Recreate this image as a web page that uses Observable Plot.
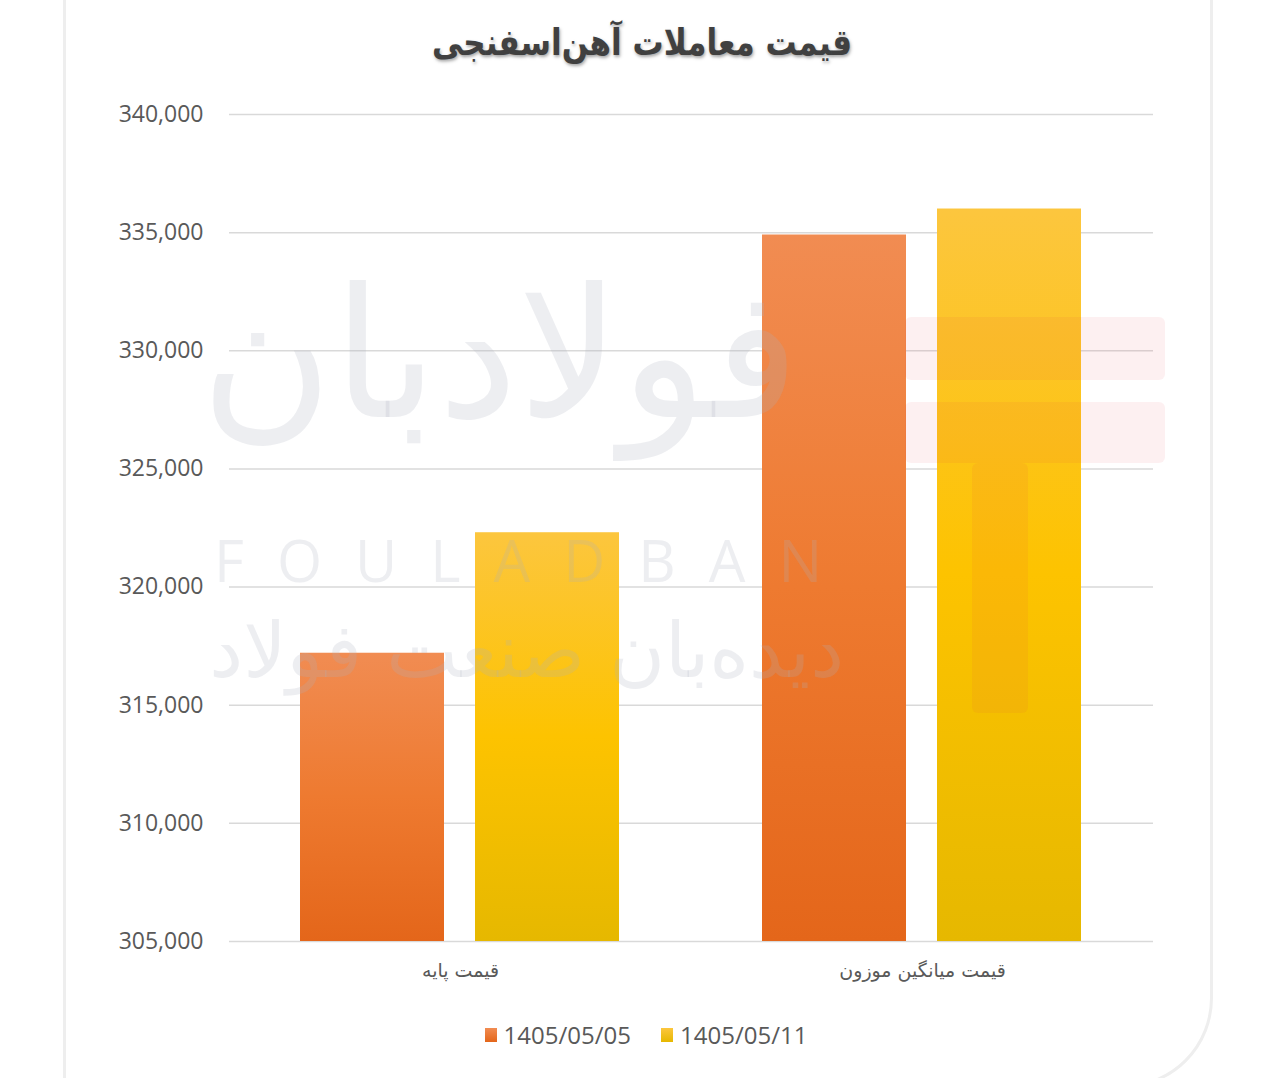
<!DOCTYPE html>
<html>
<head>
<meta charset="utf-8">
<script src="https://cdn.jsdelivr.net/npm/d3@7"></script>
<script src="https://cdn.jsdelivr.net/npm/@observablehq/plot@0.6"></script>
<style>
  html, body { margin: 0; padding: 0; background: #ffffff; }
  #root { position: relative; width: 1280px; height: 1078px; overflow: hidden; background: #fff; }
  #card { position: absolute; left: 63px; top: -40px; width: 1150px; height: 1128px;
          border: 3px solid #eeeeee; border-radius: 0 0 90px 0; box-sizing: border-box; }
  #title { position: absolute; left: 0; top: 24px; width: 1284px; text-align: center;
           font-family: "DejaVu Sans", sans-serif; font-weight: bold; font-size: 31px; color: #404040;
           text-shadow: 1px 2px 3px rgba(0,0,0,0.35); direction: rtl; transform: scaleY(1.18); }
  #chart { position: absolute; left: 0; top: 0; }
  #legend { position: absolute; left: 0; top: 1018px; width: 1292px; display: flex; justify-content: center;
            gap: 30px; font-family: "Open Sans", sans-serif; font-size: 24px; color: #595959; }
  .item { display: flex; align-items: center; gap: 7px; }
  .sw { width: 12px; height: 14px; display: inline-block; }
  .wm { position: absolute; pointer-events: none; color: rgba(175,178,190,0.22); white-space: nowrap; }
  .logo { position: absolute; pointer-events: none; background: rgba(225,60,80,0.08); border-radius: 6px; }
</style>
</head>
<body>
<div id="root">
  <div id="card"></div>
  <div id="title">قیمت معاملات آهن‌اسفنجی</div>
  <div id="chart"></div>
  <div class="logo" style="left:905px; top:317px; width:260px; height:63px;"></div>
  <div class="logo" style="left:905px; top:402px; width:260px; height:61px;"></div>
  <div class="logo" style="left:972px; top:463px; width:56px; height:250px;"></div>
  <div class="wm" style="left:214px; top:520px; font-family:'Open Sans',sans-serif; font-size:58px; letter-spacing:33px;">FOULADBAN</div>
  <div class="wm" style="left:150px; top:250px; width:700px; text-align:center; font-family:'DejaVu Sans',sans-serif; font-size:180px; direction:rtl;">فولادبان</div>
  <div class="wm" style="left:214px; top:606px; width:630px; text-align:center; font-family:'DejaVu Sans',sans-serif; font-size:76px; direction:rtl;">دیده‌بان صنعت فولاد</div>
  <div id="legend"></div>
</div>
<script>
const categories = ["قیمت پایه", "قیمت میانگین موزون"];
const series = ["1405/05/05", "1405/05/11"];
const values0505 = [317200, 334900];
const values0511 = [322300, 336000];
const yTicks = [305000, 310000, 315000, 320000, 325000, 330000, 335000, 340000];

const data = [];
categories.forEach((c, i) => {
  data.push({category: c, series: series[0], value: values0505[i]});
  data.push({category: c, series: series[1], value: values0511[i]});
});

const chart = Plot.plot({
  width: 1280,
  height: 1000,
  marginLeft: 228,
  marginRight: 127,
  marginTop: 114,
  marginBottom: 59,
  fx: {domain: categories, padding: 0, label: null, axis: null},
  x: {domain: series, paddingInner: 0.176, paddingOuter: 0.402, axis: null},
  y: {domain: [305000, 340000], label: null, axis: null},
  color: {domain: series, range: ["url(#gOrange)", "url(#gYellow)"]},
  style: {background: "transparent", overflow: "visible"},
  marks: [
    Plot.gridY(yTicks, {stroke: "#d9d9d9", strokeOpacity: 1, strokeWidth: 1.5}),
    Plot.axisY(yTicks, {tickSize: 0, tickPadding: 26, tickFormat: d3.format(","), fontSize: 23,
      fill: "#595959", fontFamily: "Open Sans, sans-serif", label: null, facetAnchor: "left"}),
    Plot.barY(data, {fx: "category", x: "series", y1: 305000, y2: "value", fill: "series",
      style: "filter: drop-shadow(2px 1px 2px rgba(60,60,80,0.35))"}),
    Plot.axisFx({anchor: "bottom", tickSize: 0, tickPadding: 22, fontSize: 19, fill: "#595959",
      fontFamily: "DejaVu Sans, sans-serif", label: null})
  ]
});

const ns = "http://www.w3.org/2000/svg";
const defs = document.createElementNS(ns, "defs");
defs.innerHTML = `
  <linearGradient id="gOrange" x1="0" y1="0" x2="0" y2="1">
    <stop offset="0" stop-color="#F18C52"/>
    <stop offset="0.5" stop-color="#EE7A30"/>
    <stop offset="1" stop-color="#E4661A"/>
  </linearGradient>
  <linearGradient id="gYellow" x1="0" y1="0" x2="0" y2="1">
    <stop offset="0" stop-color="#FCC63E"/>
    <stop offset="0.5" stop-color="#FDC300"/>
    <stop offset="1" stop-color="#E6B800"/>
  </linearGradient>`;
chart.insertBefore(defs, chart.firstChild);
document.getElementById("chart").appendChild(chart);

const legend = document.getElementById("legend");
series.forEach((s, i) => {
  const it = document.createElement("div");
  it.className = "item";
  const sw = document.createElement("span");
  sw.className = "sw";
  sw.style.background = i === 0 ? "linear-gradient(#F18C52,#E4661A)" : "linear-gradient(#FCC63E,#E6B800)";
  const t = document.createElement("span");
  t.textContent = s;
  it.appendChild(sw); it.appendChild(t);
  legend.appendChild(it);
});
</script>
</body>
</html>
